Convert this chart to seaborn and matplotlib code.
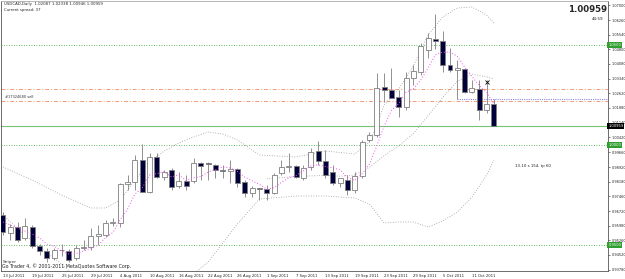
import numpy as np
import pandas as pd
import matplotlib
matplotlib.use("Agg")
import matplotlib.pyplot as plt
import seaborn as sns

# ---------------- data ----------------
dates = pd.bdate_range("2011-07-13", "2011-10-14")  # 68 daily bars

opens = [0.9652, 0.9562, 0.9592, 0.9537, 0.9592, 0.9497, 0.9472, 0.9437, 0.9477, 0.9472,
         0.9437, 0.9487, 0.9492, 0.9547, 0.9552, 0.9612, 0.9612, 0.9807, 0.9817, 0.9927,
         0.9767, 0.9942, 0.9842, 0.9877, 0.9797, 0.9822, 0.9822, 0.9912, 0.9912, 0.9902,
         0.9877, 0.9872, 0.9882, 0.9817, 0.9762, 0.9787, 0.9782, 0.9762, 0.9862, 0.9892,
         0.9897, 0.9837, 0.9892, 0.9972, 0.9922, 0.9867, 0.9812, 0.9827, 0.9777, 0.9847,
         1.0027, 1.0052, 1.0292, 1.0277, 1.0242, 1.0192, 1.0337, 1.0367, 1.0477, 1.0532,
         1.0522, 1.0402, 1.0377, 1.0382, 1.0267, 1.0282, 1.0177, 1.02087]
highs = [0.9667, 0.9607, 0.9617, 0.9637, 0.9602, 0.9507, 0.9487, 0.9487, 0.9507, 0.9482,
         0.9502, 0.9527, 0.9587, 0.9602, 0.9627, 0.9637, 0.9812, 0.9852, 0.9952, 1.0007,
         0.9962, 0.9962, 0.9877, 0.9887, 0.9867, 0.9852, 0.9937, 0.9917, 0.9917, 0.9907,
         0.9902, 0.9927, 0.9887, 0.9827, 0.9797, 0.9787, 0.9802, 0.9862, 0.9927, 0.9962,
         0.9902, 0.9902, 0.9987, 1.0022, 0.9977, 0.9902, 0.9837, 0.9852, 0.9867, 1.0027,
         1.0067, 1.0362, 1.0362, 1.0387, 1.0277, 1.0367, 1.0402, 1.0512, 1.0562, 1.0657,
         1.0572, 1.0487, 1.0427, 1.0387, 1.0327, 1.0327, 1.0327, 1.02338]
lows = [0.9552, 0.9527, 0.9517, 0.9527, 0.9487, 0.9452, 0.9417, 0.9427, 0.9447, 0.9417,
        0.9427, 0.9477, 0.9477, 0.9502, 0.9542, 0.9597, 0.9592, 0.9777, 0.9777, 0.9767,
        0.9762, 0.9837, 0.9827, 0.9777, 0.9787, 0.9777, 0.9812, 0.9827, 0.9827, 0.9837,
        0.9837, 0.9812, 0.9792, 0.9742, 0.9742, 0.9727, 0.9727, 0.9757, 0.9852, 0.9867,
        0.9837, 0.9827, 0.9877, 0.9902, 0.9837, 0.9802, 0.9792, 0.9752, 0.9762, 0.9837,
        1.0017, 1.0042, 1.0217, 1.0237, 1.0142, 1.0177, 1.0302, 1.0352, 1.0437, 1.0482,
        1.0367, 1.0367, 1.0232, 1.0262, 1.0262, 1.0127, 1.0162, 1.00946]
closes = [0.9567, 0.9592, 0.9527, 0.9597, 0.9497, 0.9472, 0.9437, 0.9477, 0.9475, 0.9427,
          0.9487, 0.9492, 0.9547, 0.9557, 0.9612, 0.9617, 0.9807, 0.9817, 0.9927, 0.9767,
          0.9942, 0.9842, 0.9867, 0.9792, 0.9822, 0.9797, 0.9912, 0.9897, 0.9907, 0.9877,
          0.9872, 0.9882, 0.9812, 0.9762, 0.9787, 0.9782, 0.9762, 0.9852, 0.9892, 0.9897,
          0.9842, 0.9887, 0.9967, 0.9922, 0.9852, 0.9812, 0.9837, 0.9777, 0.9847, 1.0017,
          1.0052, 1.0287, 1.0277, 1.0237, 1.0192, 1.0337, 1.0372, 1.0497, 1.0537, 1.0522,
          1.0402, 1.0377, 1.0387, 1.0267, 1.0287, 1.0177, 1.0207, 1.00959]

# fast moving average (magenta), one value per bar
ma_fast = [0.9617, 0.9602, 0.9587, 0.9572, 0.9556, 0.9537, 0.9506, 0.9496, 0.9472, 0.9457,
           0.9460, 0.9472, 0.9486, 0.9502, 0.9539, 0.9565, 0.9628, 0.9682, 0.9756, 0.9787,
           0.9852, 0.9859, 0.9869, 0.9842, 0.9853, 0.9824, 0.9838, 0.9844, 0.9867, 0.9878,
           0.9893, 0.9887, 0.9870, 0.9841, 0.9823, 0.9805, 0.9781, 0.9789, 0.9815, 0.9837,
           0.9849, 0.9874, 0.9897, 0.9903, 0.9894, 0.9888, 0.9878, 0.9840, 0.9825, 0.9858,
           0.9906, 0.9996, 1.0096, 1.0174, 1.0209, 1.0266, 1.0283, 1.0327, 1.0387, 1.0453,
           1.0466, 1.0467, 1.0445, 1.0391, 1.0344, 1.0299, 1.0265, 1.0207]

# slower moving average (grey dotted), read where visible
ma_slow_idx = [36, 40, 44, 46, 48, 50, 52, 54, 56, 58, 60, 62, 64, 66, 67]
ma_slow_val = [0.9833, 0.9845, 0.9850, 0.9846, 0.9852, 0.9890, 0.9948, 0.9998, 1.0059, 1.0148,
               1.0240, 1.0321, 1.0356, 1.0343, 1.0332]

# Bollinger bands (grey dotted)
bbu_idx = [0, 4, 8, 12, 14, 16, 18, 20, 22, 24, 26, 28, 30, 32, 35, 40, 44, 48, 50, 51,
           52, 54, 56, 58, 60, 62, 64, 66, 67]
bbu_val = [0.9892, 0.9827, 0.9752, 0.9687, 0.9687, 0.9727, 0.9827, 0.9917, 0.9972, 1.0012,
           1.0042, 1.0067, 1.0057, 1.0027, 0.9952, 0.9942, 0.9972, 0.9957, 1.0017, 1.0097,
           1.0202, 1.0282, 1.0397, 1.0552, 1.0642, 1.0687, 1.0692, 1.0652, 1.0612]
bbl_idx = [0, 3, 6, 8, 10, 14, 20, 24, 26, 28, 30, 32, 35, 40, 44, 48, 50, 52, 54, 56,
           58, 60, 62, 64, 66, 67]
bbl_val = [0.9652, 0.9552, 0.9462, 0.9407, 0.9337, 0.9277, 0.9292, 0.9307, 0.9357, 0.9417,
           0.9512, 0.9607, 0.9732, 0.9747, 0.9747, 0.9737, 0.9707, 0.9612, 0.9617, 0.9617,
           0.9592, 0.9622, 0.9667, 0.9742, 0.9852, 0.9927]

level_lines = [1.0500, 1.0000, 0.9500]
level_labels = ["1.0500", "1.0000", "0.9500"]
bid_price = 1.00959
order_open = 1.0222
order_sl = 1.0282
hline_price = 1.0232
hline_start = 62
close_mark = (66, 1.0317)

ytick_vals = [1.0700, 1.0626, 1.0554, 1.0480, 1.0408, 1.0334, 1.0262, 1.0188, 1.0114,
              1.0042, 0.9966, 0.9892, 0.9818, 0.9746, 0.9672, 0.9598, 0.9526, 0.9452, 0.9378]
ytick_labels = ["1.07000", "1.06260", "1.05540", "1.04800", "1.04080", "1.03340", "1.02620",
                "1.01880", "1.01140", "1.00420", "0.99660", "0.98920", "0.98180", "0.97460",
                "0.96720", "0.95980", "0.95260", "0.94520", "0.93780"]
xtick_labels = ["13 Jul 2011", "19 Jul 2011", "25 Jul 2011", "29 Jul 2011", "4 Aug 2011",
                "10 Aug 2011", "16 Aug 2011", "22 Aug 2011", "26 Aug 2011", "1 Sep 2011",
                "7 Sep 2011", "13 Sep 2011", "19 Sep 2011", "23 Sep 2011", "29 Sep 2011",
                "5 Oct 2011", "11 Oct 2011"]

# ---------------- style ----------------
sns.set_style("white")
plt.rcParams["font.family"] = ["DejaVu Sans"]

W, H = 625, 279
fig = plt.figure(figsize=(W / 100, H / 100), dpi=100)
ax = fig.add_axes([1 / W, 8 / H, 607 / W, 270 / H])
XMAX = 82.56
ax.set_xlim(-0.27, XMAX)
ax.set_ylim(0.9372, 1.0722)

df = pd.DataFrame({"date": dates, "open": opens, "high": highs, "low": lows,
                   "close": closes, "ma": ma_fast})
df["i"] = np.arange(len(df))
up = df["close"] >= df["open"]

edge = "#7f7f7f"
ax.vlines(df["i"], df["low"], df["high"], color=edge, lw=0.6, zorder=3)
body_bot = np.minimum(df["open"], df["close"])
body_h = np.maximum(np.abs(df["close"] - df["open"]), 0.00012)
ax.bar(df["i"][up], body_h[up], bottom=body_bot[up], width=0.68, color="white",
       edgecolor=edge, linewidth=0.6, zorder=4)
ax.bar(df["i"][~up], body_h[~up], bottom=body_bot[~up], width=0.68, color="#00003a",
       edgecolor=edge, linewidth=0.6, zorder=4)

def dotted(xs, ys, color, lw=0.6, z=2):
    n0 = len(ax.lines)
    sns.lineplot(x=xs, y=ys, ax=ax, color=color, lw=lw, zorder=z)
    for ln in ax.lines[n0:]:
        ln.set_linestyle((0, (1.0, 2.0)))
        ln.set_dash_capstyle("butt")

dotted(bbu_idx, bbu_val, "#9a9a9a")
dotted(bbl_idx, bbl_val, "#9a9a9a")
dotted(ma_slow_idx, ma_slow_val, "#9a9a9a")
dotted(df["i"], df["ma"], "#ee55ee", lw=0.7, z=5)

# horizontal levels
for lv in level_lines:
    ax.axhline(lv, color="#2ea82e", lw=0.6, linestyle=(0, (1, 2)), zorder=1)
ax.axhline(bid_price, color="#74c474", lw=0.8, zorder=1)
for lv in (order_open, order_sl):
    ax.axhline(lv, color="#f49a78", lw=0.7, linestyle=(0, (4, 2, 1, 2)), zorder=1)
ax.hlines(hline_price, hline_start, XMAX, color="#8c8ce0", lw=0.8, linestyle=(0, (1, 1)), zorder=1)
ax.plot([close_mark[0]], [close_mark[1]], marker="x", color="black", ms=2.5, mew=0.6, zorder=6)

ax.text(0.3, order_open + 0.0012, "#17324680 sell", fontsize=2.6, color="#333333", va="bottom")
ax.text(69.9, 0.98975, "13-10 s 154, tp 60", fontsize=2.8, color="#222222", va="center")

# axes / ticks
ax.yaxis.tick_right()
ax.set_yticks(ytick_vals)
ax.set_yticklabels(ytick_labels)
ax.tick_params(axis="y", labelsize=2.5, length=1.5, width=0.4, pad=1, colors="#222222")
tick_pos = [int(np.where(df["date"] == pd.to_datetime(s, format="%d %b %Y"))[0][0]) for s in xtick_labels]
ax.set_xticks(tick_pos)
ax.set_xticklabels(xtick_labels, ha="left")
ax.tick_params(axis="x", labelsize=2.7, length=1.5, width=0.4, pad=0.5, colors="#222222")
for s in ax.spines.values():
    s.set_color("#555555")
    s.set_linewidth(0.6)
ax.spines["top"].set_color("#aaaaaa")
ax.spines["top"].set_linestyle((0, (1, 1)))
ax.set_xlabel("")
ax.set_ylabel("")

def box(price, label, fc):
    ax.text(1.0005, price, label, transform=ax.get_yaxis_transform(), fontsize=2.6,
            color="white", va="center", ha="left",
            bbox=dict(boxstyle="square,pad=0.25", fc=fc, ec=fc, lw=0))
for lv, lab in zip(level_lines, level_labels):
    box(lv, lab, "#2e9e2e")
box(bid_price, "1.00959", "#000000")

fig.text(4 / W, 1 - 2 / H, "USDCAD,Daily  1.02087 1.02338 1.00946 1.00959", fontsize=2.8, va="top")
fig.text(4 / W, 1 - 7.5 / H, "Current spread: 37", fontsize=2.8, va="top")
fig.text(607 / W, 1 - 10 / H, "1.00959", fontsize=6.2, fontweight="bold", ha="right", va="center")
fig.text(603 / W, 1 - 19.5 / H, "44:59", fontsize=3.0, ha="right", va="center")
fig.text(3 / W, 1 - 261.5 / H, "Sniper", fontsize=3.2, va="center", color="#333333")
fig.text(2 / W, 1 - 266.5 / H, "Go Trader 4, \u00a9 2001-2011 MetaQuotes Software Corp.",
         fontsize=3.4, va="center", color="#222222")

fig.savefig("out.png", dpi=100)
